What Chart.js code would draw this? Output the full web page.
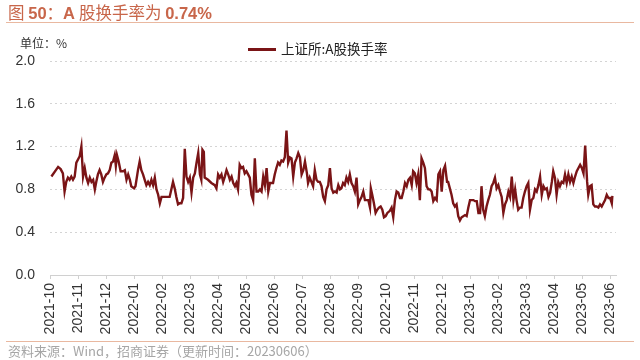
<!DOCTYPE html>
<html><head><meta charset="utf-8">
<script src="https://cdn.jsdelivr.net/npm/chart.js@4.4.0/dist/chart.umd.min.js"></script>
<style>
html,body{margin:0;padding:0;background:#fff;}
#wrap{position:relative;width:640px;height:360px;overflow:hidden;font-family:"Liberation Sans",Arial,sans-serif;}
#c{position:absolute;left:0;top:0;}
.title{position:absolute;left:8px;top:2px;font-size:16.5px;color:#c8664a;white-space:nowrap;line-height:20px;}
.title .cn{font-family:"Noto Sans CJK SC",sans-serif;font-weight:400;}
.title .b{font-weight:bold;font-family:"Liberation Sans",Arial,sans-serif;}
.hr1{position:absolute;left:6px;right:6px;top:22px;height:0;border-top:1.5px solid #e9b8a0;}
.hr2{position:absolute;left:6px;right:6px;top:341px;height:0;border-top:1.5px solid #e9b8a0;}
.unit{position:absolute;left:20px;top:34px;font-size:12px;color:#333;font-family:"Noto Sans CJK SC",sans-serif;}
.leg{position:absolute;left:248px;top:38px;font-size:13.5px;color:#222;font-family:"Noto Sans CJK SC",sans-serif;white-space:nowrap;}
.leg i{display:inline-block;width:28px;height:3px;background:#7a1416;vertical-align:middle;margin-right:5px;position:relative;top:-1px;}
.src{position:absolute;left:8px;top:341px;font-size:13px;color:#a6a6a6;font-family:"Noto Sans CJK SC",sans-serif;white-space:nowrap;}
</style></head>
<body><div id="wrap">
<canvas id="c" width="640" height="360"></canvas>
<div class="title"><span class="cn">图 </span><span class="b">50</span><span class="cn">：</span><span class="b">A </span><span class="cn">股换手率为 </span><span class="b">0.74%</span></div>
<div class="hr1"></div>
<div class="unit">单位：%</div>
<div class="leg"><i></i>上证所:A股换手率</div>
<div class="hr2"></div>
<div class="src">资料来源：Wind，招商证券（更新时间：20230606）</div>
</div>
<script>
// Month tick labels (x axis, one per month, index 0 = 2021-10)
const monthLabels = ["2021-10","2021-11","2021-12","2022-01","2022-02","2022-03","2022-04","2022-05","2022-06","2022-07","2022-08","2022-09","2022-10","2022-11","2022-12","2023-01","2023-02","2023-03","2023-04","2023-05","2023-06"];
const seriesName = "上证所:A股换手率";
// Position of each observation in months since 2021-10-01
const monthPos = [
0.05,0.29,0.38,0.46,0.52,0.58,0.64,0.70,0.76,0.82,0.88,0.94,1.06,1.12,1.18,1.24,1.30,1.36,1.42,1.48,1.54,1.60,1.65,1.71,1.77,1.83,1.89,1.95,2.01,2.07,2.13,2.19,2.25,2.31,2.35,2.39,2.45,2.52,2.61,2.67,2.73,2.79,2.85,2.90,3.00,3.05,3.14,3.20,3.26,3.32,3.38,3.44,3.50,3.56,3.62,3.68,3.74,3.80,3.86,3.92,3.98,4.04,4.27,4.33,4.39,4.45,4.51,4.57,4.63,4.69,4.75,4.81,4.87,4.93,
4.99,5.05,5.11,5.17,5.23,5.29,5.35,5.40,5.44,5.49,5.52,5.64,5.76,5.88,5.94,6.00,6.06,6.12,6.18,6.24,6.30,6.36,6.42,6.48,6.54,6.60,6.65,6.71,6.77,6.83,6.89,6.95,7.01,7.07,7.13,7.19,7.25,7.31,7.37,7.43,7.49,7.55,7.61,7.67,7.73,7.79,7.85,7.91,7.96,8.02,8.08,8.14,8.20,8.26,8.32,8.38,8.44,8.50,8.56,8.62,8.68,8.74,8.80,8.86,8.92,8.98,9.04,9.10,9.17,9.21,9.27,9.33,9.39,9.45,9.51,9.57,9.63,9.69,9.75,9.81,9.87,
9.93,9.99,10.05,10.11,10.17,10.23,10.29,10.35,10.40,10.46,10.52,10.58,10.64,10.70,10.76,10.82,10.88,10.94,11.00,11.06,11.12,11.18,11.24,11.30,11.36,11.42,11.45,11.50,11.56,11.62,11.68,11.74,11.80,11.86,11.92,11.98,12.04,12.13,12.19,12.25,12.31,12.37,12.43,12.49,12.55,12.61,12.67,12.73,12.79,12.85,12.91,12.96,13.02,13.08,13.14,13.20,13.26,13.32,13.38,13.44,13.50,13.56,13.62,13.68,13.74,13.80,13.86,13.92,13.98,14.04,14.10,14.17,14.21,14.27,14.33,14.39,14.45,14.51,14.57,14.63,14.69,14.75,14.81,14.87,
14.93,14.99,15.05,15.11,15.17,15.23,15.29,15.35,15.40,15.46,15.52,15.58,15.64,15.70,15.76,15.82,15.88,15.94,16.00,16.06,16.12,16.18,16.24,16.30,16.36,16.42,16.48,16.54,16.60,16.65,16.71,16.77,16.83,16.89,16.95,17.01,17.07,17.13,17.19,17.25,17.31,17.37,17.43,17.49,17.55,17.61,17.67,17.73,17.79,17.85,17.91,17.96,18.02,18.08,18.14,18.20,18.26,18.32,18.38,18.44,18.50,18.56,18.62,18.68,18.74,18.80,18.86,18.92,18.98,19.04,19.10,19.17,19.21,19.27,19.33,19.39,19.45,19.51,19.57,19.63,19.69,19.75,19.81,19.87,19.93,19.99,20.05,20.07
];
// A-share turnover rate (%)
const turnover = [
0.92,1.01,0.99,0.95,0.78,0.87,0.91,0.89,0.92,0.89,0.92,1.05,1.11,1.20,0.92,1.00,0.91,0.86,0.91,0.87,0.89,0.80,0.87,0.94,0.98,0.94,0.87,0.91,0.94,0.95,0.98,1.05,1.06,1.12,1.02,1.12,1.06,0.97,0.97,0.98,0.89,0.94,0.89,0.83,0.81,0.83,0.98,1.06,0.98,0.94,0.89,0.84,0.87,0.84,0.89,0.84,0.91,0.80,0.75,0.67,0.73,0.73,0.73,0.80,0.87,0.81,0.73,0.66,0.67,0.67,0.72,1.18,0.92,0.87,
0.91,0.77,0.91,0.95,1.05,1.14,0.94,0.89,1.17,1.15,0.91,0.89,0.86,0.84,0.81,0.94,0.91,0.94,0.87,0.92,0.98,0.94,0.89,0.92,0.86,0.83,0.86,0.80,1.03,1.00,1.01,0.95,0.97,0.94,0.91,0.75,0.70,1.09,0.78,0.78,0.80,0.78,0.92,0.84,1.00,0.78,0.86,0.86,0.86,0.94,1.00,1.05,1.03,1.07,1.06,1.10,1.35,1.05,1.10,1.09,0.92,1.05,1.09,1.14,1.10,0.94,0.98,1.06,0.95,0.86,0.91,0.87,0.83,0.98,0.89,0.87,0.87,0.83,0.73,0.69,0.80,
0.84,1.00,0.81,0.77,0.78,0.77,0.84,0.80,0.81,0.86,0.84,0.91,0.87,0.94,0.86,0.83,0.78,0.91,0.66,0.70,0.73,0.78,0.70,0.70,0.70,0.63,0.81,0.75,0.67,0.58,0.61,0.63,0.64,0.61,0.54,0.55,0.58,0.60,0.63,0.54,0.70,0.78,0.77,0.72,0.72,0.78,0.86,0.83,0.89,0.91,0.84,0.97,0.95,0.86,0.94,0.70,1.09,1.05,1.00,0.83,0.80,0.80,0.78,0.69,0.72,0.70,0.94,0.97,0.78,0.98,1.02,0.87,0.87,0.81,0.75,0.67,0.64,0.66,0.55,0.51,0.54,0.55,0.56,0.55,
0.63,0.70,0.70,0.70,0.69,0.69,0.58,0.58,0.83,0.61,0.55,0.64,0.70,0.75,0.83,0.86,0.91,0.81,0.84,0.78,0.73,0.58,0.66,0.70,0.78,0.73,0.92,0.70,0.80,0.70,0.61,0.63,0.63,0.72,0.78,0.83,0.86,0.61,0.70,0.72,0.80,0.78,0.84,0.92,0.75,0.83,0.80,0.81,0.73,0.77,0.87,0.97,0.91,0.75,0.87,0.83,0.87,0.86,0.94,0.86,0.94,0.87,0.92,0.86,0.92,0.97,1.00,1.03,1.00,0.95,1.21,0.87,0.75,0.83,0.84,0.66,0.64,0.64,0.63,0.66,0.64,0.67,0.70,0.75,0.72,0.72,0.67,0.74
];
const yTicks = [0, 0.4, 0.8, 1.2, 1.6, 2.0];

const points = monthPos.map((m, i) => ({x: m, y: turnover[i]}));
new Chart(document.getElementById('c'), {
  type: 'line',
  data: { datasets: [{ label: seriesName, data: points, borderColor: '#7a1416', borderWidth: 2.4, pointRadius: 0, tension: 0, fill: false }] },
  options: {
    responsive: false, animation: false, devicePixelRatio: 1,
    layout: { padding: { top: 61, left: 0, right: 24, bottom: 25 } },
    plugins: { legend: { display: false }, tooltip: { enabled: false } },
    scales: {
      x: {
        type: 'linear', min: 0, max: 20.2,
        afterFit: s => { s.height = 60; },
        grid: { drawOnChartArea: false, drawTicks: true, tickLength: 4, color: '#d0d0d0' },
        border: { display: true, color: '#d0d0d0', width: 1 },
        ticks: {
          stepSize: 1, includeBounds: false, autoSkip: false, minRotation: 90, maxRotation: 90, padding: 4,
          color: '#333', font: { family: 'Liberation Sans', size: 14 },
          callback: v => (Number.isInteger(v) && monthLabels[v]) ? monthLabels[v] : ''
        }
      },
      y: {
        min: 0, max: 2.0,
        afterFit: s => { s.width = 50; },
        afterBuildTicks: s => { s.ticks = yTicks.map(v => ({value: v})); },
        grid: { drawTicks: false, color: '#d4d4d4', lineWidth: 1 },
        border: { display: false, dash: [2, 3] },
        ticks: { padding: 15, color: '#333', font: { family: 'Liberation Sans', size: 14 }, callback: v => v.toFixed(1) }
      }
    }
  }
});
</script>
</body></html>
